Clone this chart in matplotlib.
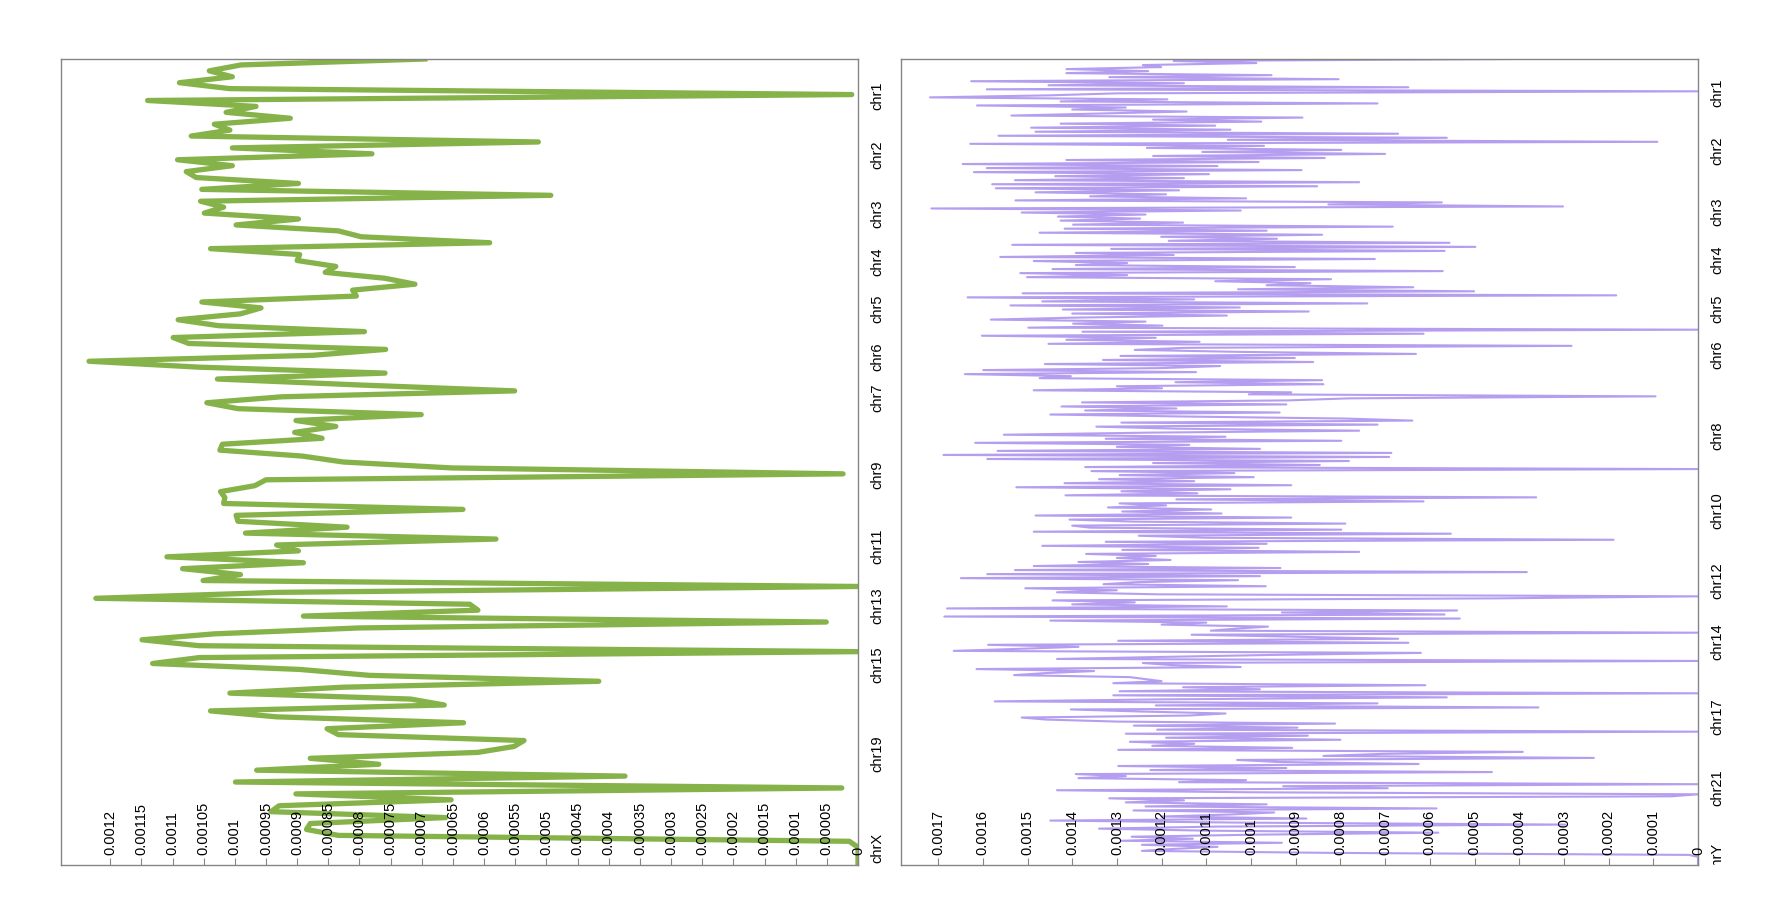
import numpy as np
import matplotlib
matplotlib.use("Agg")
import matplotlib.pyplot as plt
from matplotlib.transforms import Bbox, TransformedBbox, blended_transform_factory

plt.rcParams["font.family"] = ["Liberation Sans", "DejaVu Sans"]

# values are in units of 1e-4
green_e4 = [
    6.95, 9.90, 10.41, 10.04, 10.89, 10.08, 0.10, 11.40, 9.66, 10.14,
    9.11, 10.33, 10.08, 10.70, 5.13, 10.04, 7.80, 10.92, 10.04, 10.78,
    10.62, 8.98, 10.53, 4.93, 10.55, 10.18, 10.49, 8.98, 9.98, 8.34,
    7.97, 5.91, 10.39, 8.96, 9.00, 8.38, 8.55, 7.59, 7.11, 8.11,
    8.05, 10.53, 9.58, 9.91, 10.91, 10.26, 7.92, 10.99, 10.74, 7.58,
    8.75, 12.34, 10.57, 7.59, 10.28, 8.01, 5.51, 9.25, 10.45, 9.95,
    7.01, 9.02, 8.38, 9.04, 8.60, 10.20, 10.24, 8.92, 8.26, 6.52,
    0.24, 9.50, 9.68, 10.23, 10.16, 10.18, 6.34, 9.98, 9.95, 8.20,
    9.83, 5.81, 9.33, 8.98, 11.09, 8.90, 10.84, 9.91, 10.51, 0.0,
    9.33, 12.23, 6.23, 6.10, 8.90, 0.51, 8.01, 10.33, 11.49, 10.57,
    0.0, 10.57, 11.32, 8.96, 7.84, 4.16, 8.26, 10.08, 7.18, 6.64,
    10.39, 9.33, 6.33, 8.52, 8.34, 5.36, 5.52, 6.10, 8.79, 7.69,
    9.65, 3.74, 9.99, 0.26, 9.02, 6.53, 9.29, 9.42, 6.62, 8.79,
    8.85, 8.34, 0.14, 0.0, 0.0, 0.0, 0.0,
]

purple_e4 = [
    # chr1 ...
    4.17, 11.73, 9.88, 12.42, 12.01, 14.13, 12.30, 14.13, 9.54, 13.17,
    8.04, 16.26, 11.50, 14.53, 6.48, 15.91, 0.0,
    13.00, 14.53, 17.18, 11.87, 14.26, 7.17, 16.13, 12.80, 14.00, 11.44,
    13.42, 15.36, 8.85, 12.19, 9.77, 14.26, 10.80, 14.92, 10.46, 14.82,
    6.71, 15.65, 5.62, 10.52, 0.91, 16.28, 9.71, 12.33, 7.98, 11.09,
    7.00, 12.19, 8.35, 14.13, 9.83, 16.45, 10.75, 15.91, 8.87, 16.20,
    10.94, 14.38, 11.50, 15.28, 7.58, 15.79, 8.52, 15.71, 11.61, 14.82,
    11.90, 13.60, 10.11, 15.27, 5.73, 8.27, 3.02, 17.15, 10.23, 15.13,
    12.36, 14.32, 12.48, 14.26, 11.52, 13.98, 6.83, 14.17, 9.65, 14.73,
    8.41, 12.01, 9.42, 11.84, 5.56, 15.34, 4.98, 13.13, 5.67, 13.92,
    11.73, 15.61, 7.23, 14.86, 12.77, 13.92, 9.02, 14.44, 5.71, 15.16,
    12.77, 15.01, 8.21, 10.80, 8.67, 9.65, 6.37, 10.29, 5.01, 15.11,
    1.83, 16.34, 11.27, 14.67, 7.40, 15.38, 10.25, 14.21, 8.71, 14.00,
    10.54, 13.86, 15.82, 12.36, 13.98, 11.98, 14.98, 0.0,
    13.77, 6.14, 16.02, 12.13, 14.13, 11.15, 14.53, 2.83, 11.50, 12.6, 10.2, 6.31,
    12.92, 9.02, 13.31, 8.61, 14.61, 10.69, 11.98, 15.99, 11.23, 16.40,
    14.03, 14.73, 8.41, 11.69, 8.38, 13.00, 11.99, 14.86, 9.10, 10.05,
    0.95, 7.81, 9.17, 13.78, 9.21, 14.24, 11.67, 13.71, 9.36, 14.49,
    11.44, 7.87, 6.39, 12.90, 7.17, 13.46, 11.67, 7.58, 12.4, 15.53, 10.57,
    13.25, 7.98, 16.17, 11.38, 13.0, 9.8, 15.67, 6.86, 16.88, 6.91, 15.90, 7.81,
    12.19, 8.46, 13.71, 0.0,
    13.57, 10.37, 12.94, 9.94, 13.40, 11.27, 14.17, 9.10, 15.25, 10.46, 12.9, 11.2,
    14.15, 3.62, 11.67, 6.14, 12.94, 11.9, 13.2, 10.89, 12.88, 10.66, 14.82, 9.10,
    14.06, 12.65, 7.89, 14.00, 13.60, 7.98, 14.86, 5.53, 12.51, 11.0, 1.89,
    13.25, 9.65, 14.67, 9.83, 12.88, 7.58, 13.69, 12.13, 13.0, 11.8, 13.86, 12.30,
    14.86, 9.34, 15.28, 3.83, 15.90, 9.80, 16.49, 10.29, 12.59, 13.3, 9.67,
    15.05, 13.00, 14.34, 12.07, 0.0,
    4.46, 14.44, 12.6, 14.0, 10.54, 16.80, 5.39, 9.31, 5.67, 16.86,
    5.33, 14.49, 11.0, 12.0, 9.62, 10.34, 10.9, 0.0,
    11.33, 9.0, 6.71, 12.97, 6.48, 15.88, 13.86, 15.2, 16.65, 6.20,
    9.5, 12.0, 14.34, 0.0,
    12.42, 11.8, 10.23, 16.14, 13.51, 14.6, 15.30, 12.71, 12.36, 12.0,
    13.08, 6.10, 11.52, 9.80, 12.94, 0.0,
    13.08, 5.62, 11.96, 15.73, 7.17, 12.13, 3.57, 14.03, 12.5, 10.57,
    11.38, 15.13, 14.59, 13.0, 8.12, 12.62, 8.96, 12.10, 0.0,
    12.80, 8.73, 11.90, 8.00, 12.71, 11.27, 12.21, 9.08, 12.97, 3.92,
    7.06, 8.38, 2.33, 10.31, 9.40, 6.25, 12.97, 9.21, 12.25, 4.61,
    13.92, 12.80, 13.86, 10.11, 11.61, 0.0,
    9.28, 6.94, 14.34, 10.0, 0.0,
    0.60, 13.17, 11.5, 12.8, 9.65, 12.36, 5.85, 12.63, 9.48, 10.46,
    12.0, 8.76, 14.49, 10.34, 2.96, 10.80, 13.40, 11.0, 5.81, 9.94,
    12.67, 11.3, 12.9, 9.31, 12.44, 10.75, 11.7, 12.44, 8.21, 0.20,
    0.0, 0.0, 0.0, 0.0, 0.0,
]

green_tick_labels = ["0.0012", "0.00115", "0.0011", "0.00105", "0.001", "0.00095",
                     "0.0009", "0.00085", "0.0008", "0.00075", "0.0007", "0.00065",
                     "0.0006", "0.00055", "0.0005", "0.00045", "0.0004", "0.00035",
                     "0.0003", "0.00025", "0.0002", "0.00015", "0.0001", "0.00005", "0"]
purple_tick_labels = ["0.0017", "0.0016", "0.0015", "0.0014", "0.0013", "0.0012",
                      "0.0011", "0.001", "0.0009", "0.0008", "0.0007", "0.0006",
                      "0.0005", "0.0004", "0.0003", "0.0002", "0.0001", "0"]

green_chroms = ["chr1", "chr2", "chr3", "chr4", "chr5", "chr6", "chr7",
                "chr9", "chr11", "chr13", "chr15", "chr19", "chrX"]
green_chrom_bin = [6, 16, 26, 34, 42, 50, 57, 70, 82, 92, 102, 117, 133]

purple_chroms = ["chr1", "chr2", "chr3", "chr4", "chr5", "chr6", "chr8",
                 "chr10", "chr12", "chr14", "chr17", "chr21", "chrY"]
purple_chrom_bin = [16, 45, 75, 99, 123, 146, 186, 223, 258, 288, 325, 360, 395]

W, H = 1790, 920
SPINE = "#858585"


def draw_panel(ax, vals_e4, color, lw, xmax, tick_labels, chroms, chrom_bin):
    vals = np.array(vals_e4) * 1e-4
    bins = np.arange(len(vals))
    ax.plot(vals, bins, color=color, linewidth=lw, zorder=2)
    ax.set_axisbelow(False)  # tick labels sit on top of the line

    ax.set_xlim(xmax, 0)
    ax.set_ylim(len(vals) - 1, 0)

    ticks = [float(s) for s in tick_labels]
    ax.set_xticks(ticks)
    ax.set_xticklabels(tick_labels, rotation=90, va="bottom", ha="center")
    ax.tick_params(axis="x", direction="in", length=5, width=0.8, color=SPINE,
                   pad=-8, labelsize=10.5, labelcolor="black")
    ax.set_yticks([])

    for sp in ax.spines.values():
        sp.set_color(SPINE)
        sp.set_linewidth(1.0)

    # chromosome names to the right of the zero line, clipped to the frame height
    trans = blended_transform_factory(ax.transAxes, ax.transData)
    clip = TransformedBbox(Bbox([[1.0, 0.0], [1.1, 1.0]]), ax.transAxes)
    for name, b in zip(chroms, chrom_bin):
        t = ax.text(1.016, b, name, transform=trans, rotation=90, ha="left",
                    va="center", fontsize=10.5, clip_on=True)
        t.set_clip_box(clip)


fig = plt.figure(figsize=(W / 100, H / 100), dpi=100, facecolor="white")
ax1 = fig.add_axes([61 / W, 1 - 866 / H, 797 / W, 806 / H])
ax2 = fig.add_axes([901 / W, 1 - 866 / H, 797 / W, 806 / H])

draw_panel(ax1, green_e4, "#86b24a", 3.8, 0.001279, green_tick_labels,
           green_chroms, green_chrom_bin)
draw_panel(ax2, purple_e4, "#b59ef0", 1.5, 0.001783, purple_tick_labels,
           purple_chroms, purple_chrom_bin)

fig.savefig("out.png", dpi=100, facecolor="white")
